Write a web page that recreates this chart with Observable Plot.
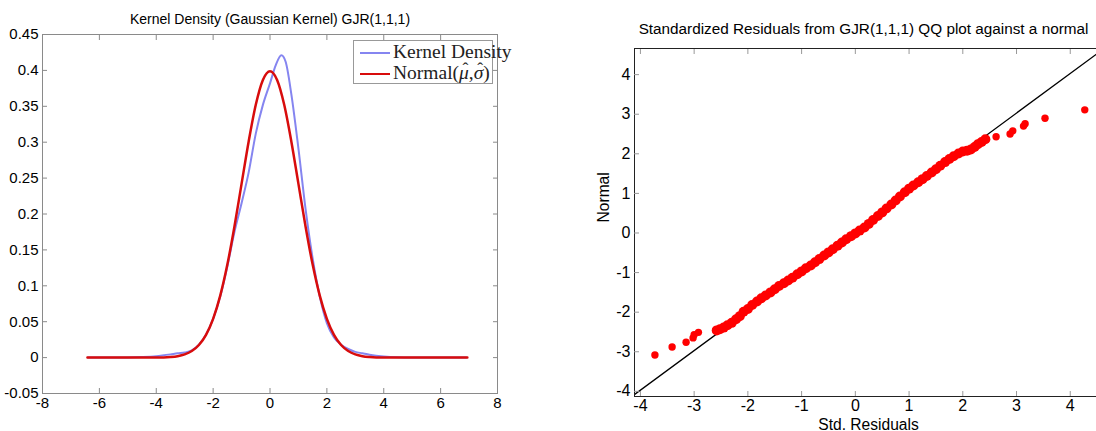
<!DOCTYPE html>
<html><head><meta charset="utf-8">
<script src="https://cdn.jsdelivr.net/npm/d3@7"></script>
<script src="https://cdn.jsdelivr.net/npm/@observablehq/plot@0.6"></script>
<style>
html,body{margin:0;padding:0;background:#fff;overflow:hidden;}
#wrap{position:relative;width:1096px;height:431px;overflow:hidden;font-family:"Liberation Sans",Arial,sans-serif;}
#left{position:absolute;left:0;top:0;width:548px;height:431px;}
#right{position:absolute;left:548px;top:0;width:570px;height:431px;}
#wrap svg{max-width:none !important;}
#legend{position:absolute;left:353px;top:40px;width:140px;height:44px;border:1px solid #999;background:#fff;box-sizing:border-box;overflow:visible;}
.row{position:absolute;left:0;height:20px;white-space:nowrap;font-family:"Liberation Serif","Times New Roman",serif;font-size:19.5px;color:#222;line-height:20px;}
.sw{position:absolute;left:6px;top:10px;width:30px;height:0;}
.lbl{position:absolute;left:39px;top:0;}
.hat{position:relative;display:inline-block;font-style:italic;}
.hat::after{content:"\02C6";position:absolute;left:0.2em;top:-0.28em;font-style:normal;font-size:0.9em;}
</style></head>
<body>
<div id="wrap">
  <div id="left"></div>
  <div id="right"></div>
  <div id="legend"></div>
</div>
<script>
// ---- Left panel: kernel density vs normal ----
const kdeX = [-6.4,-5,-4.5,-4,-3.5,-3.25,-3,-2.75,-2.5,-2.25,-2,-1.75,-1.5,-1.25,-1,-0.75,-0.5,-0.25,0,0.2,0.4,0.55,0.75,1,1.25,1.5,1.75,2,2.25,2.5,2.75,3,3.25,3.5,4,4.5,5,6.9];
const kdeY = [0,0.0002,0.0008,0.002,0.0045,0.006,0.007,0.010,0.018,0.032,0.054,0.085,0.127,0.175,0.215,0.258,0.312,0.352,0.382,0.407,0.421,0.412,0.367,0.291,0.207,0.138,0.085,0.048,0.028,0.018,0.012,0.008,0.006,0.004,0.0015,0.0004,0.0001,0];
const normX = [-6.42,-5,-4,-3.5,-3.25,-3,-2.75,-2.5,-2.25,-2,-1.75,-1.5,-1.25,-1,-0.75,-0.5,-0.25,0,0.25,0.5,0.75,1,1.25,1.5,1.75,2,2.25,2.5,2.75,3,3.25,3.5,4,5,6.94];
const normY = [0,0,0.0001,0.0009,0.0020,0.0044,0.0091,0.0175,0.0317,0.0540,0.0863,0.1295,0.1826,0.2420,0.3011,0.3521,0.3867,0.3989,0.3867,0.3521,0.3011,0.2420,0.1826,0.1295,0.0863,0.0540,0.0317,0.0175,0.0091,0.0044,0.0020,0.0009,0.0001,0,0];
const leftXTicks = [-8,-6,-4,-2,0,2,4,6,8];
const leftYTicks = [-0.05,0,0.05,0.1,0.15,0.2,0.25,0.3,0.35,0.4,0.45];
const leftTitle = "Kernel Density (Gaussian Kernel) GJR(1,1,1)";
const legendItems = [
  {label: "Kernel Density", color: "#8585f0", width: 2},
  {label: "Normal(<span class=\"hat\">\u03BC</span>,<span class=\"hat\">\u03C3</span>)", color: "#d80c0c", width: 2.5}
];

// ---- Right panel: QQ plot ----
const qqX = [-3.73,-3.41,-3.15,-3.02,-3.00,-2.92,-2.58,-2.52,-2.45,-2.38,-2.30,-2.22,-2.15,-2.08,-2.00,-1.92,-1.83,-1.75,-1.67,-1.58,-1.50,-1.42,-1.33,-1.25,-1.17,-1.08,-1.00,-0.92,-0.83,-0.75,-0.67,-0.58,-0.50,-0.42,-0.33,-0.25,-0.17,-0.08,0.00,0.08,0.17,0.25,0.33,0.42,0.50,0.58,0.67,0.75,0.83,0.92,1.00,1.08,1.17,1.25,1.33,1.42,1.50,1.58,1.67,1.75,1.83,1.92,2.00,2.08,2.15,2.22,2.28,2.35,2.42,2.62,2.88,2.93,3.13,3.16,3.53,4.27];
const qqY = [-3.08,-2.88,-2.76,-2.65,-2.57,-2.51,-2.46,-2.43,-2.39,-2.33,-2.27,-2.18,-2.10,-1.99,-1.92,-1.82,-1.73,-1.65,-1.58,-1.50,-1.42,-1.34,-1.27,-1.20,-1.13,-1.04,-0.97,-0.89,-0.82,-0.74,-0.66,-0.57,-0.49,-0.41,-0.32,-0.24,-0.16,-0.08,-0.01,0.06,0.14,0.23,0.33,0.43,0.52,0.62,0.72,0.82,0.92,1.03,1.12,1.20,1.28,1.36,1.44,1.53,1.61,1.70,1.79,1.87,1.94,2.01,2.06,2.08,2.11,2.17,2.24,2.30,2.37,2.43,2.50,2.58,2.70,2.76,2.90,3.11];
const refLineX = [-4.3, 4.8];
const refLineY = [-4.27, 4.83];
const rightXTicks = [-4,-3,-2,-1,0,1,2,3,4];
const rightYTicks = [-4,-3,-2,-1,0,1,2,3,4];
const rightTitle = "Standardized Residuals from GJR(1,1,1) QQ plot against a normal";
const rightXLabel = "Std. Residuals";
const rightYLabel = "Normal";

const fmt = d => String(+d.toFixed(2));
const kde = kdeX.map((x, i) => ({x, y: kdeY[i]}));
const norm = normX.map((x, i) => ({x, y: normY[i]}));
const qq = qqX.map((x, i) => ({x, y: qqY[i], dense: i >= 6 && i <= 68}));
const ref = refLineX.map((x, i) => ({x, y: refLineY[i]}));

const leftPlot = Plot.plot({
  width: 548, height: 431,
  marginLeft: 42, marginRight: 51, marginTop: 34, marginBottom: 38,
  style: {fontFamily: "'Liberation Sans', Arial, sans-serif", fontSize: "15px", color: "#000", background: "transparent", overflow: "visible"},
  x: {domain: [-8, 8]},
  y: {domain: [-0.05, 0.45]},
  marks: [
    Plot.line(kde, {x: "x", y: "y", stroke: "#8585f0", strokeWidth: 2, curve: "monotone-x"}),
    Plot.line(norm, {x: "x", y: "y", stroke: "#d80c0c", strokeWidth: 2.5, curve: "monotone-x"}),
    Plot.frame({stroke: "#8a8a8a"}),
    Plot.axisX(leftXTicks, {anchor: "bottom", tickSize: -5, tickPadding: 9, tickFormat: fmt, label: null, stroke: "#8a8a8a", fill: "#000"}),
    Plot.axisX(leftXTicks, {anchor: "top", tickSize: -5, tickFormat: () => "", label: null, stroke: "#8a8a8a"}),
    Plot.axisY(leftYTicks, {anchor: "left", tickSize: -5, tickPadding: 9, tickFormat: fmt, label: null, stroke: "#8a8a8a", fill: "#000"}),
    Plot.axisY(leftYTicks, {anchor: "right", tickSize: -5, tickFormat: () => "", label: null, stroke: "#8a8a8a"}),
    Plot.text([leftTitle], {frameAnchor: "top", dy: -15, lineAnchor: "middle", fontSize: 14, fill: "#000"})
  ]
});
document.getElementById("left").append(leftPlot);

const rightPlot = Plot.plot({
  width: 570, height: 431,
  marginLeft: 86, marginRight: 16, marginTop: 48, marginBottom: 35,
  style: {fontFamily: "'Liberation Sans', Arial, sans-serif", fontSize: "16px", color: "#000", background: "transparent", overflow: "visible"},
  x: {domain: [-4.11, 4.6]},
  y: {domain: [-4.13, 4.66]},
  r: {type: "identity"},
  marks: [
    Plot.line(ref, {x: "x", y: "y", stroke: "#000", strokeWidth: 1.3, clip: true}),
    Plot.dot(qq, {x: "x", y: "y", r: d => d.dense ? 5 : 3.7, fill: "#ff0000", stroke: null}),
    Plot.frame({stroke: "#222"}),
    Plot.axisX(rightXTicks, {anchor: "bottom", tickSize: -5, tickPadding: 8, tickFormat: fmt, label: null, stroke: "#999", fill: "#000"}),
    Plot.axisX(rightXTicks, {anchor: "top", tickSize: -5, tickFormat: () => "", label: null, stroke: "#999"}),
    Plot.axisY(rightYTicks, {anchor: "left", tickSize: -5, tickPadding: 9, tickFormat: fmt, label: null, stroke: "#999", fill: "#000"}),
    Plot.axisY(rightYTicks, {anchor: "right", tickSize: -5, tickFormat: () => "", label: null, stroke: "#999"}),
    Plot.text([rightTitle], {frameAnchor: "top", dy: -19, dx: -5, lineAnchor: "middle", fontSize: 15.3, fill: "#000"}),
    Plot.text([rightXLabel], {frameAnchor: "bottom", dy: 28, lineAnchor: "middle", fontSize: 15.6, fill: "#000"}),
    Plot.text([rightYLabel], {frameAnchor: "left", dx: -31, rotate: -90, lineAnchor: "middle", fontSize: 15.6, fill: "#000"})
  ]
});
document.getElementById("right").append(rightPlot);

const legend = document.getElementById("legend");
legendItems.forEach((it, i) => {
  const row = document.createElement("div");
  row.className = "row";
  row.style.top = (i === 0 ? 1 : 22) + "px";
  row.innerHTML = `<div class="sw" style="border-top:${it.width}px solid ${it.color}"></div><span class="lbl">${it.label}</span>`;
  legend.append(row);
});
</script>
</body></html>
